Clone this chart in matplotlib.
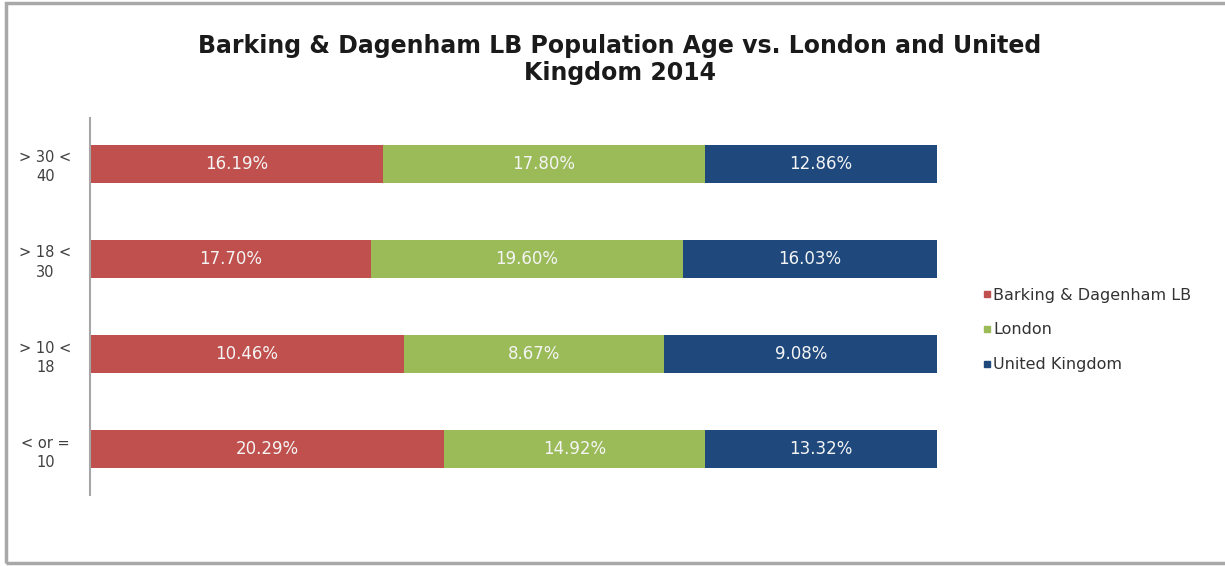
import numpy as np
import matplotlib.pyplot as plt
from matplotlib.lines import Line2D
from matplotlib.patches import Rectangle

plt.rcParams['font.family'] = ['DejaVu Sans']

# Age bands, bottom to top
age_bands = ['< or =\n10', '> 10 <\n18', '> 18 <\n30', '> 30 <\n40']
series_names = ['Barking & Dagenham LB', 'London', 'United Kingdom']
barking = [20.29, 10.46, 17.70, 16.19]
london = [14.92, 8.67, 19.60, 17.80]
uk = [13.32, 9.08, 16.03, 12.86]
colors = ['#C0504D', '#9BBB59', '#1F497D']

values = np.array([barking, london, uk])
shares = values / values.sum(axis=0)

fig = plt.figure(figsize=(12.25, 5.66), dpi=100)
ax = fig.add_axes([0.0735, 0.1254, 0.6915, 0.666])

y = np.arange(len(age_bands))
left = np.zeros(len(age_bands))
for vals, share, color in zip(values, shares, colors):
    ax.barh(y, share, left=left, height=0.4, color=color)
    for yi, l, s, v in zip(y, left, share, vals):
        ax.text(l + s / 2, yi, f'{v:.2f}%', ha='center', va='center',
                color='#f4f4f4', fontsize=12)
    left += share

ax.set_xlim(0, 1)
ax.set_ylim(-0.48, 3.48)
ax.set_yticks(y)
ax.set_yticklabels(age_bands, fontsize=10.5, color='#404040', ha='center',
                   linespacing=1.35)
ax.tick_params(axis='y', length=0, pad=32)
ax.set_xticks([])
for side in ['top', 'right', 'bottom']:
    ax.spines[side].set_visible(False)
ax.spines['left'].set_color('#a6a6a6')
ax.spines['left'].set_linewidth(1.5)

fig.text(0.506, 0.895, 'Barking & Dagenham LB Population Age vs. London and United\nKingdom 2014',
         ha='center', va='center', fontsize=17, fontweight='bold', linespacing=1.15,
         color='#1a1a1a')

handles = [Line2D([], [], marker='s', linestyle='none', color=c, markersize=5)
           for c in colors]
fig.legend(handles, series_names, loc='center left', bbox_to_anchor=(0.791, 0.417),
           frameon=False, fontsize=11.5, handlelength=0.5, handletextpad=0.1,
           labelspacing=1.25, labelcolor='#333333')

fig.patches.append(Rectangle((0.005, 0.005), 1.0, 0.989, transform=fig.transFigure,
                             fill=False, edgecolor='#a8a8a8', linewidth=2.5))

fig.savefig('out.png', dpi=100)
